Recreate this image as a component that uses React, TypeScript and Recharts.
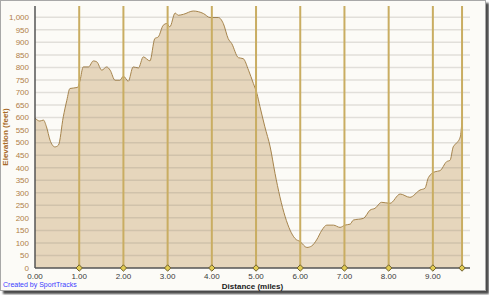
import React from 'react';
import { AreaChart, Area, XAxis, YAxis, ReferenceLine, ReferenceDot } from 'recharts';

// distance (miles) and elevation (feet)
const distances = [
  0, 0.11, 0.19, 0.26, 0.34, 0.45, 0.53, 0.64, 0.72, 0.79, 0.96, 1.02, 1.09, 1.21, 1.32, 1.4,
  1.51, 1.62, 1.7, 1.81, 1.92, 2.0, 2.11, 2.22, 2.34, 2.45, 2.6, 2.71, 2.79, 2.9, 2.98, 3.05,
  3.17, 3.24, 3.36, 3.58, 3.81, 3.96, 4.15, 4.26, 4.37, 4.45, 4.6, 4.71, 4.83, 4.94, 5.02, 5.09,
  5.2, 5.32, 5.43, 5.54, 5.66, 5.77, 5.88, 6.0, 6.15, 6.26, 6.37, 6.49, 6.6, 6.75, 6.9, 7.01,
  7.13, 7.2, 7.43, 7.58, 7.69, 7.84, 8.03, 8.26, 8.48, 8.71, 8.82, 8.9, 9.05, 9.16, 9.31, 9.39,
  9.46, 9.54, 9.62, 9.66,
];
const elevations = [
  598, 586, 590, 563, 510, 483, 490, 603, 669, 716, 720, 749, 802, 802, 826, 822,
  789, 802, 789, 749, 749, 765, 745, 802, 798, 842, 826, 915, 922, 968, 975, 962,
  1017, 1008, 1012, 1025, 1015, 999, 999, 975, 915, 895, 839, 835, 789, 736, 696, 643,
  563, 483, 377, 284, 204, 151, 118, 105, 82, 88, 112, 151, 171, 171, 162, 171,
  175, 191, 198, 231, 238, 262, 258, 295, 282, 311, 318, 361, 384, 388, 424, 430,
  483, 499, 523, 590,
];

const xTicks = [0, 1, 2, 3, 4, 5, 6, 7, 8, 9];
const yTicks = [0, 50, 100, 150, 200, 250, 300, 350, 400, 450, 500, 550, 600, 650, 700, 750, 800, 850, 900, 950, 1000];
// gold marker lines: every mile plus the end of the track
const markers = [1, 2, 3, 4, 5, 6, 7, 8, 9, 9.66];

const data = distances.map((d, i) => ({ d, elev: elevations[i] }));

const FONT = '"Liberation Sans", Arial, sans-serif';

const Diamond = (props: any) => {
  const { cx, cy } = props;
  const s = 3.2;
  return (
    <path
      d={`M${cx},${cy - s} L${cx + s},${cy} L${cx},${cy + s} L${cx - s},${cy} Z`}
      fill="#e2cc52"
      stroke="#6f6030"
      strokeWidth={1}
    />
  );
};

export default function App() {
  return (
    <div style={{ position: 'absolute', left: 0, top: 0, width: 489, height: 295, background: '#fff' }}>
      <div
        style={{
          position: 'absolute', left: 0, top: 0, width: 484, height: 289,
          border: '1px solid #a8a8a8', background: '#fcfbf7', boxShadow: '3px 3px 2px #4a4a4a',
        }}
      />
      <div style={{ position: 'absolute', left: 0, top: 0 }}>
        <AreaChart width={489} height={295} data={data} margin={{ top: 6, right: 19, left: 0, bottom: 0 }}>
          <XAxis
            dataKey="d"
            type="number"
            domain={[0, 9.84]}
            ticks={xTicks}
            interval={0}
            tickFormatter={(v) => Number(v).toFixed(2)}
            tick={{ fill: '#3a3a3a', fontSize: 8, fontFamily: FONT }}
            axisLine={{ stroke: '#555', strokeWidth: 1.5 }}
            tickLine={false}
            tickSize={0}
            tickMargin={5}
            height={27}
            label={{ value: 'Distance (miles)', position: 'insideBottom', offset: 6, fill: '#1a1a1a', fontSize: 8, fontWeight: 'bold', fontFamily: FONT }}
          />
          <YAxis
            type="number"
            domain={[0, 1045]}
            ticks={yTicks}
            interval={0}
            tickFormatter={(v) => Number(v).toLocaleString('en-US')}
            tick={{ fill: '#b08048', fontSize: 8, fontFamily: FONT }}
            axisLine={{ stroke: '#555', strokeWidth: 1.5 }}
            tickLine={false}
            tickSize={0}
            tickMargin={6}
            width={35}
            label={{ value: 'Elevation (feet)', angle: -90, position: 'insideLeft', offset: 5, fill: '#a86a28', fontSize: 8, fontWeight: 'bold', fontFamily: FONT, style: { textAnchor: 'middle' } }}
          />
          <Area
            type="monotone"
            dataKey="elev"
            stroke="#a6844c"
            strokeWidth={1}
            fill="#e6d6bc"
            fillOpacity={1}
            isAnimationActive={false}
          />
          {yTicks.filter((t) => t > 0).map((t) => (
            <ReferenceLine key={`h${t}`} y={t} stroke="rgba(120,115,105,0.2)" strokeWidth={1.5} />
          ))}
          {markers.map((m) => (
            <ReferenceLine key={`v${m}`} x={m} stroke="#c9ad62" strokeWidth={2} />
          ))}
          {markers.map((m) => (
            <ReferenceDot key={`p${m}`} x={m} y={0} r={3} shape={Diamond} ifOverflow="visible" />
          ))}
        </AreaChart>
      </div>
      <div
        style={{
          position: 'absolute', left: 3, top: 281, fontFamily: FONT, fontSize: 7,
          color: '#3d3dff', whiteSpace: 'nowrap',
        }}
      >
        Created by SportTracks
      </div>
    </div>
  );
}
